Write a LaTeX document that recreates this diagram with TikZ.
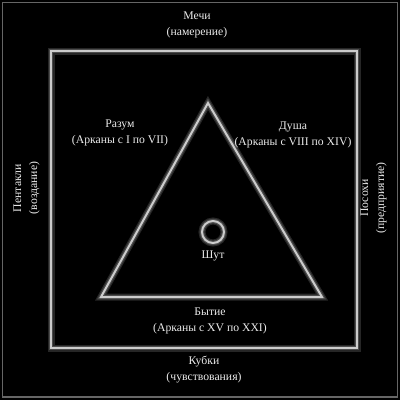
\documentclass[tikz,border=0pt]{standalone}
\usepackage{fontspec}
\setmainfont{Liberation Serif}
\begin{document}
\begin{tikzpicture}[x=1pt,y=-1pt,
  lbl/.style={text=white!92!black,font=\fontsize{11.7}{16}\selectfont,align=center,inner sep=0pt},
  glowA/.style={draw=white!15!black,line width=7pt,line join=miter},
  glowB/.style={draw=white!30!black,line width=4.5pt,line join=miter},
  lineL/.style={draw=white!80!black,line width=2pt,line join=miter}]
\fill[black] (0,0) rectangle (400,400);
\useasboundingbox (0,0) rectangle (400,400);
\draw[draw=white!40!black,line width=1.5pt] (2.5,2.5) rectangle (397.5,397);
% square
\coordinate (s1) at (51,51);
\coordinate (s2) at (357,348);
\draw[glowA] (s1) rectangle (s2);
\draw[glowB] (s1) rectangle (s2);
\draw[lineL] (s1) rectangle (s2);
% triangle
\coordinate (ta) at (208,103);
\coordinate (tb) at (322,297);
\coordinate (tc) at (101,297);
\draw[glowA] (ta) -- (tb) -- (tc) -- cycle;
\draw[glowB] (ta) -- (tb) -- (tc) -- cycle;
\draw[lineL] (ta) -- (tb) -- (tc) -- cycle;
% circle
\node[circle,minimum size=22pt,inner sep=0pt] (fool) at (213,232) {};
\draw[white!15!black,line width=7pt] (fool.center) circle (11pt);
\draw[white!30!black,line width=4.5pt] (fool.center) circle (11pt);
\draw[white!80!black,line width=2pt] (fool.center) circle (11pt);
% labels
\node[lbl] (top) at (197,25) {Мечи\\(намерение)};
\node[lbl] (mind) at (120,132.5) {Разум\\(Арканы с I по VII)};
\node[lbl] (soul) at (293,134.5) {Душа\\(Арканы с VIII по XIV)};
\node[lbl] (jest) at (213,256) {Шут};
\node[lbl] (being) at (210,321) {Бытие\\(Арканы с XV по XXI)};
\node[lbl] (bottom) at (204,370) {Кубки\\(чувствования)};
\node[lbl,rotate=90] (left) at (26.5,188) {Пентакли\\(воздание)};
\node[lbl,rotate=90] (right) at (373.5,198) {Посохи\\(предприятие)};
\end{tikzpicture}
\end{document}
